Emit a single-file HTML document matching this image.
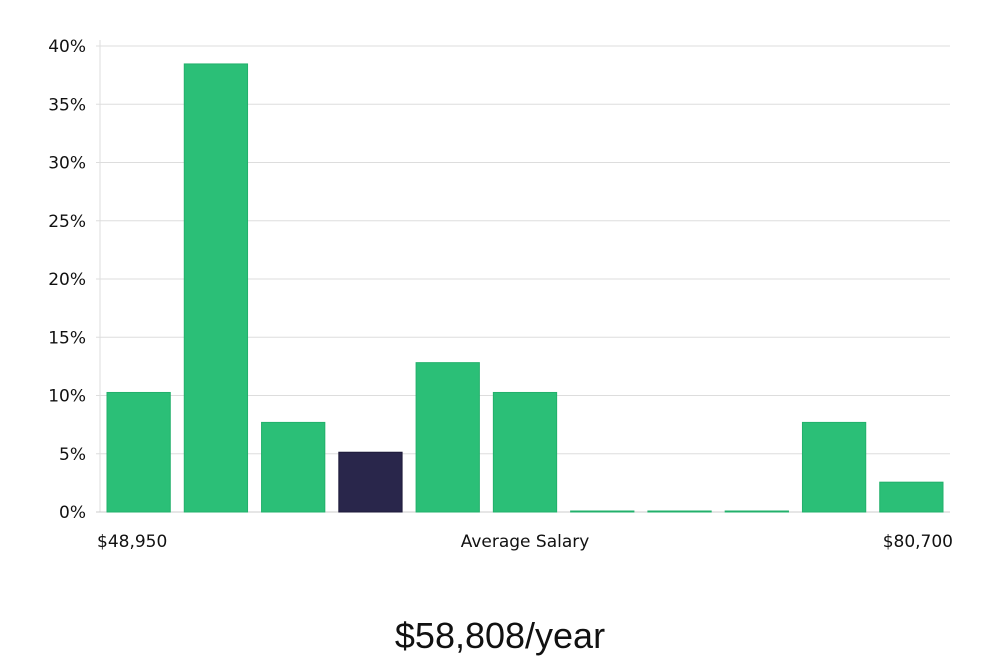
<!DOCTYPE html>
<html><head><meta charset="utf-8"><style>
body{margin:0;background:#fff;width:1000px;height:660px;overflow:hidden;font-family:"DejaVu Sans","Liberation Sans",sans-serif;}
svg text{fill:#111;}
</style></head><body>
<svg width="1000" height="660" id="chart">
<g id="grid"></g><g id="bars"></g><g id="labels"></g>
<text x="500" y="648" text-anchor="middle" font-size="36" font-family="'Liberation Sans',sans-serif">$58,808/year</text>
</svg>
<script>
const values=[10.26,38.46,7.69,5.13,12.82,10.26,0,0,0,7.69,2.56];
const highlight=[false,false,false,true,false,false,false,false,false,false,false];
const yTicks=[0,5,10,15,20,25,30,35,40];
const xLabels=["$48,950","Average Salary","$80,700"];
const ns="http://www.w3.org/2000/svg";
const x0=100,x1=950,y0=512,y40=46;
const yScale=v=>y0-(v/40)*(y0-y40);
const slot=(x1-x0)/values.length;
const grid=document.getElementById('grid'),bars=document.getElementById('bars'),labels=document.getElementById('labels');
function mk(tag,attrs,parent){const e=document.createElementNS(ns,tag);for(const k in attrs)e.setAttribute(k,attrs[k]);parent.appendChild(e);return e;}
const ax=mk('line',{x1:x0,x2:x0,y1:40,y2:y0,stroke:'#ddd'},grid);


yTicks.forEach(t=>{
  const l=mk('line',{x1:x0-4,x2:x1,y1:yScale(t),y2:yScale(t),stroke:t===0?'#ccc':'#ddd'},grid);
  
  
  const tx=mk('text',{x:86,y:yScale(t)+6,'text-anchor':'end','font-size':17},labels);
  tx.textContent=t+'%';
  
  
});
values.forEach((v,i)=>{
  const h=Math.max(y0-yScale(v),1);
  const r=mk('rect',{x:x0+i*slot+7,y:y0-h,width:slot-14,height:h,fill:highlight[i]?'#29264b':'#2bbf77',stroke:highlight[i]?'#1d1a3a':'#22b06b','stroke-width':1},bars);
  
  
});
const pos=[[97,'start'],[525,'middle'],[953,'end']];
xLabels.forEach((s,i)=>{
  const t=mk('text',{x:pos[i][0],y:547,'text-anchor':pos[i][1],'font-size':17},labels);
  t.textContent=s;
  
  
});
</script>
</body></html>
